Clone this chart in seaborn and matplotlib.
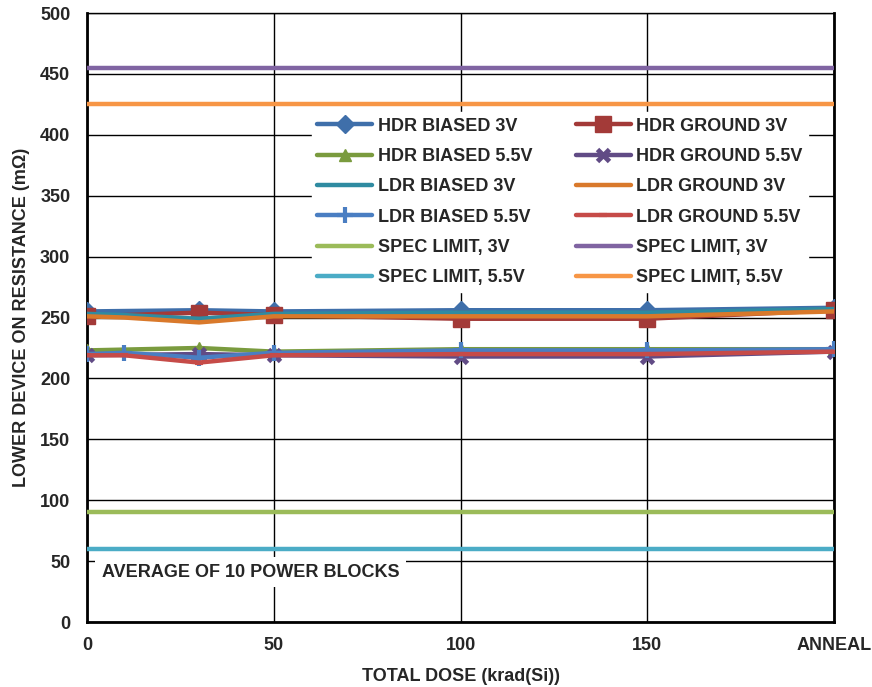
import matplotlib
matplotlib.use('Agg')
import matplotlib.pyplot as plt
import seaborn as sns

# Data (mOhm vs total dose, krad(Si)); ANNEAL plotted at 200
hdr_dose = [0, 30, 50, 100, 150, 200]
ldr_dose = [0, 10, 30, 50, 100, 150, 200]
spec_dose = [0, 200]

hdr_biased_3v = [255, 256, 255, 256, 256, 258]
hdr_ground_3v = [251, 254, 252, 249, 249, 256]
hdr_biased_55v = [223, 225, 222, 224, 224, 224]
hdr_ground_55v = [219, 220, 219, 218, 218, 222]
ldr_biased_3v = [253, 252, 249, 253, 254, 254, 257]
ldr_ground_3v = [251, 250, 246, 251, 251, 251, 255]
ldr_biased_55v = [220, 221, 217, 221, 223, 223, 224]
ldr_ground_55v = [219, 219, 213, 219, 220, 220, 222]

spec_3v_low = [90, 90]
spec_3v_high = [455, 455]
spec_55v_low = [60, 60]
spec_55v_high = [425, 425]

x_ticks = [0, 50, 100, 150, 200]
x_tick_labels = ['0', '50', '100', '150', 'ANNEAL']
y_ticks = list(range(0, 501, 50))

sns.set_style('white')
plt.rcParams['font.family'] = ['Liberation Sans', 'DejaVu Sans']
plt.rcParams['font.weight'] = 'bold'
FS = 13

fig = plt.figure(figsize=(8.72, 6.87), dpi=100)
ax = fig.add_axes([0.0998, 0.0946, 0.8566, 0.8864])

# (label, x, y, color, marker, marker size, marker edge width)
series = [
    ('HDR BIASED 3V', hdr_dose, hdr_biased_3v, '#3F6FAA', 'D', 9, 1),
    ('HDR GROUND 3V', hdr_dose, hdr_ground_3v, '#A33A38', 's', 11, 1),
    ('HDR BIASED 5.5V', hdr_dose, hdr_biased_55v, '#7A9B3E', '^', 9, 1),
    ('HDR GROUND 5.5V', hdr_dose, hdr_ground_55v, '#614B85', 'x', 9, 3.5),
    ('LDR BIASED 3V', ldr_dose, ldr_biased_3v, '#2F8BA1', None, 0, 0),
    ('LDR GROUND 3V', ldr_dose, ldr_ground_3v, '#D9792B', None, 0, 0),
    ('LDR BIASED 5.5V', ldr_dose, ldr_biased_55v, '#4A7EC2', '+', 11, 3),
    ('LDR GROUND 5.5V', ldr_dose, ldr_ground_55v, '#C64B48', '_', 6, 3),
    ('SPEC LIMIT, 3V', spec_dose, spec_3v_low, '#9BBB59', None, 0, 0),
    ('SPEC LIMIT, 3V', spec_dose, spec_3v_high, '#8064A2', None, 0, 0),
    ('SPEC LIMIT, 5.5V', spec_dose, spec_55v_low, '#4BACC6', None, 0, 0),
    ('SPEC LIMIT, 5.5V', spec_dose, spec_55v_high, '#F79646', None, 0, 0),
]

for i, (label, xs, ys, color, marker, ms, mew) in enumerate(series):
    kw = dict(marker=marker, markersize=ms, markeredgewidth=mew,
              markeredgecolor=color, markerfacecolor=color) if marker else {}
    sns.lineplot(x=xs, y=ys, ax=ax, color=color, linewidth=3.2, label=label,
                 zorder=3 + i * 0.01, **kw)

# Legend: Excel lays it out row-wise, matplotlib fills columns first
handles, labels = ax.get_legend_handles_labels()
order = [0, 2, 4, 6, 8, 10, 1, 3, 5, 7, 9, 11]
leg = ax.legend([handles[k] for k in order], [labels[k] for k in order],
                ncol=2, loc='upper left', bbox_to_anchor=(0.289, 0.852),
                frameon=True, fancybox=False, framealpha=1, edgecolor='white',
                prop={'size': FS, 'weight': 'bold'}, handlelength=3.05,
                handletextpad=0.3, columnspacing=2.4, labelspacing=0.74,
                borderpad=0.3, numpoints=1)
leg.set_zorder(5)

ax.text(4, 41, 'AVERAGE OF 10 POWER BLOCKS', fontsize=FS, fontweight='bold',
        va='center', ha='left', zorder=4,
        bbox=dict(facecolor='white', edgecolor='none', pad=5))

ax.set_xlim(0, 200)
ax.set_ylim(0, 500)
ax.set_xticks(x_ticks)
ax.set_xticklabels(x_tick_labels)
ax.set_yticks(y_ticks)
ax.tick_params(axis='both', length=0, labelsize=FS)
ax.tick_params(axis='y', pad=12)
ax.tick_params(axis='x', pad=11)
ax.grid(True, color='black', linewidth=1)
ax.set_axisbelow(True)
for side in ['left', 'bottom', 'right']:
    ax.spines[side].set_linewidth(2)
    ax.spines[side].set_color('black')
ax.spines['top'].set_linewidth(1)
ax.spines['top'].set_color('black')

ax.set_xlabel('TOTAL DOSE (krad(Si))', fontsize=FS, fontweight='bold', labelpad=10)
ax.set_ylabel('LOWER DEVICE ON RESISTANCE (m\u03a9)', fontsize=FS,
              fontweight='bold', labelpad=7)

fig.savefig('out.png', dpi=100)
